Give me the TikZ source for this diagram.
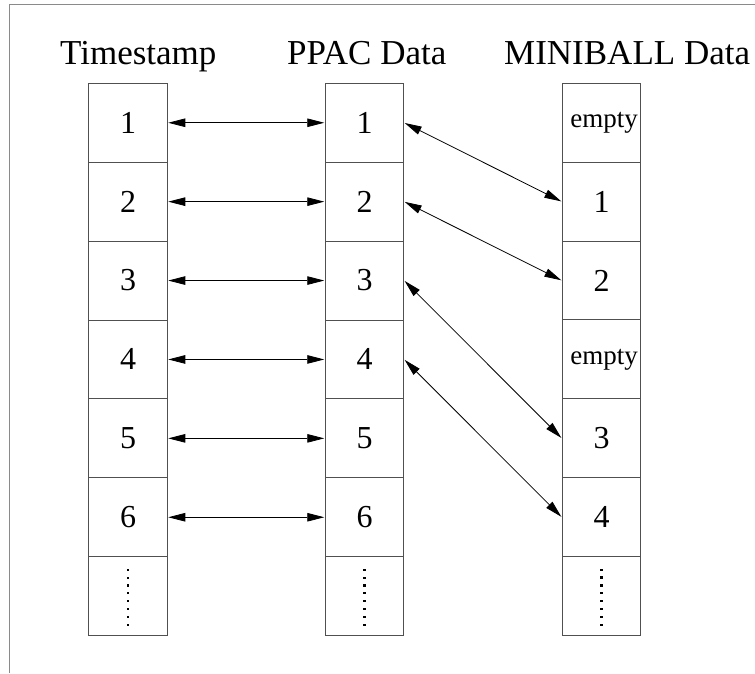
\documentclass[tikz,border=0pt]{standalone}
\usepackage{fontspec}
\setmainfont{Liberation Serif}
\usetikzlibrary{arrows.meta}
\definecolor{framegray}{HTML}{8A8A8A}
\definecolor{boxgray}{HTML}{505050}
\begin{document}
\begin{tikzpicture}[x=1pt,y=-1pt,
  cell/.style={draw=boxgray,line width=1pt,minimum width=78.5pt,minimum height=78.9pt,inner sep=0pt,font=\fontsize{32}{32}\selectfont},
  smallcell/.style={cell,font=\fontsize{27}{27}\selectfont},
  title/.style={anchor=base west,inner sep=0pt,font=\fontsize{35}{35}\selectfont},
  biarrow/.style={line width=0.8pt,{Triangle[length=17pt,width=8.5pt]}-{Triangle[length=17pt,width=8.5pt]},shorten <=0.5pt,shorten >=0.5pt},
  dotmark/.style={fill=black}
]
\useasboundingbox (0,0) rectangle (755,673);
% frame
\coordinate (fa) at (9.3,673);
\coordinate (fb) at (9.3,4.7);
\coordinate (fc) at (755,4.7);
\draw[framegray,line width=1pt] (fa) -- (fb) -- (fc);
% titles
\node[title] (ttl) at (60,64) {Timestamp};
\node[title] (ptl) at (287,64) {PPAC Data};
\node[title] (mtl) at (504,64) {MINIBALL Data};
% cells
\foreach \i/\lab in {1/1,2/2,3/3,4/4,5/5,6/6,7/{}} {
  \node[cell] (t\i) at (128,83.3+78.9*\i-39.45) {\lab};
  \node[cell] (p\i) at (364.5,83.3+78.9*\i-39.45) {\lab};
}
\node[smallcell] (m1) at (601.5,123) {\hspace*{5pt}\raisebox{-4pt}{empty}};
\node[cell] (m2) at (601.5,201.6) {1};
\node[cell] (m3) at (601.5,280.5) {2};
\node[smallcell] (m4) at (601.5,359.4) {\hspace*{5pt}\raisebox{-4pt}{empty}};
\node[cell] (m5) at (601.5,438.3) {3};
\node[cell] (m6) at (601.5,517.2) {4};
\node[cell] (m7) at (601.5,596.1) {};
% dots
\foreach \n in {t7,p7,m7} {
  \foreach \k in {0,...,7} {
    \fill[dotmark] ([xshift=-1.3pt,yshift=27.5pt-7.86pt*\k] \n.center) rectangle ++(2.6,2.2);
  }
}
% horizontal arrows
\foreach \i in {1,...,6} {
  \draw[biarrow] (t\i.east) -- (p\i.west);
}
% diagonal arrows
\draw[biarrow] (p1.east) -- (m2.west);
\draw[biarrow] (p2.east) -- (m3.west);
\draw[biarrow] (p3.east) -- (m5.west);
\draw[biarrow] (p4.east) -- (m6.west);
\end{tikzpicture}
\end{document}
